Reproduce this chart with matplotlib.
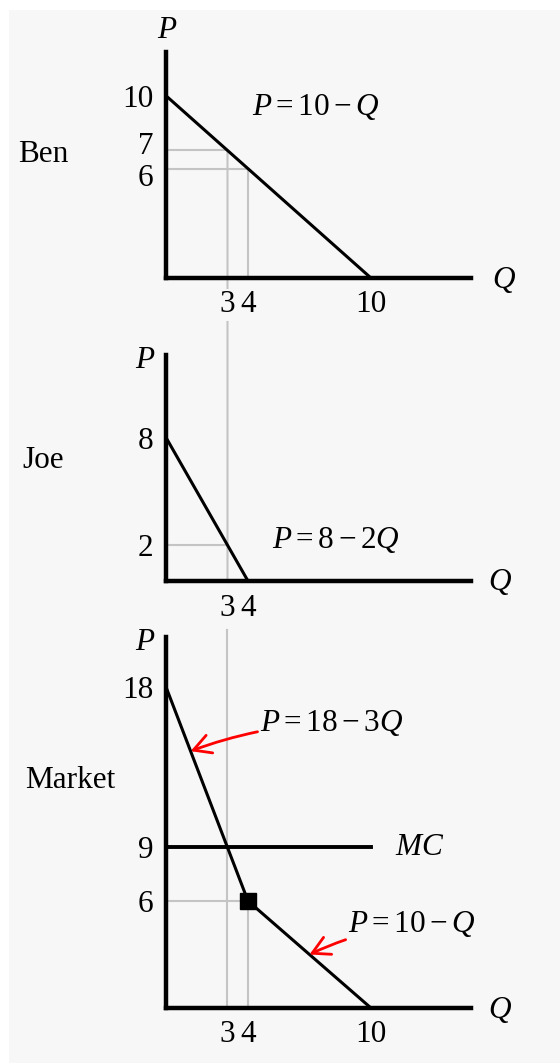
# Ben + Joe demand curves and their vertical sum (market demand) with MC

import matplotlib.pyplot as plt
from matplotlib.patches import Rectangle, ConnectionPatch
from matplotlib.transforms import ScaledTranslation

plt.rcParams['font.family'] = ['Liberation Serif', 'DejaVu Serif']
plt.rcParams['mathtext.fontset'] = 'custom'
plt.rcParams['mathtext.rm'] = 'Liberation Serif'
plt.rcParams['mathtext.it'] = 'Liberation Serif:italic'

# demand schedules (quantity, price)
ben_q = [0, 10]
ben_p = [10, 0]
joe_q = [0, 4]
joe_p = [8, 0]
mkt_q = [0, 4, 10]
mkt_p = [18, 6, 0]
mc = 9
mc_q = [0, 10]

# guide points
ben_guides = [(3, 7), (4, 6)]
joe_guide = (3, 2)
mkt_point = (4, 6)

ben_yticks = [10, 7, 6]
joe_yticks = [8, 2]
mkt_yticks = [18, 9, 6]
ben_xticks = [3, 4, 10]
joe_xticks = [3, 4]
mkt_xticks = [3, 4, 10]

bg = '#f7f7f7'
grey = '#c4c4c4'
W, H = 560, 1063
fs = 22.5

fig = plt.figure(figsize=(W / 100, H / 100), dpi=100)
fig.patch.set_facecolor('white')
fig.add_artist(Rectangle((9 / W, 0), 1, 1 - 10 / H, transform=fig.transFigure,
                         facecolor=bg, edgecolor='none', zorder=-3))


def panel(bottom_px, height_px, ymax):
    ax = fig.add_axes([166 / W, 1 - bottom_px / H, 305 / W, height_px / H])
    ax.set_facecolor('none')
    ax.set_xlim(0, 14.88)
    ax.set_ylim(0, ymax)
    for s in ['top', 'right']:
        ax.spines[s].set_visible(False)
    for s in ['left', 'bottom']:
        ax.spines[s].set_linewidth(3.2)
        ax.spines[s].set_capstyle('projecting')
    ax.tick_params(length=0, labelsize=fs, pad=9)
    return ax


def set_ticks(ax, xt, yt):
    ax.set_xticks(xt)
    ax.set_xticklabels([str(v) for v in xt])
    ax.set_yticks(yt)
    ax.set_yticklabels([str(v) for v in yt])
    for lab in ax.get_xticklabels() + ax.get_yticklabels():
        lab.set_bbox(dict(facecolor=bg, edgecolor='none', pad=1))


def nudge(lab, dy_px):
    lab.set_transform(lab.get_transform() +
                      ScaledTranslation(0, dy_px / 100, fig.dpi_scale_trans))


def axis_names(ax, p_xy, q_xy):
    ax.text(*p_xy, '$P$', fontsize=fs, ha='center', va='center', clip_on=False)
    ax.text(*q_xy, '$Q$', fontsize=fs, ha='center', va='center', clip_on=False)


# Ben
ax1 = panel(278, 226, 12.4)
set_ticks(ax1, ben_xticks, ben_yticks)
# 7 and 6 sit close together, spread the labels a little
ylabs = ax1.get_yticklabels()
nudge(ylabs[1], 7)
nudge(ylabs[2], -6)
for q, p in ben_guides:
    ax1.plot([0, q], [p, p], color=grey, lw=1.5, zorder=1)
    if q != 3:
        ax1.plot([q, q], [0, p], color=grey, lw=1.5, zorder=1)
ax1.plot(ben_q, ben_p, color='black', lw=2.2, zorder=3)
ax1.text(7.3, 9.4, '$P = 10 - Q$', fontsize=fs, ha='center', va='center')
axis_names(ax1, (0.05, 13.6), (16.5, -0.1))
fig.text(43 / W, 1 - 155 / H, 'Ben', fontsize=fs, ha='center', va='center')

# Joe
ax2 = panel(581, 226, 12.6)
set_ticks(ax2, joe_xticks, joe_yticks)
ax2.plot([0, joe_guide[0]], [joe_guide[1], joe_guide[1]], color=grey, lw=1.5, zorder=1)
ax2.plot(joe_q, joe_p, color='black', lw=2.2, zorder=3)
ax2.text(8.3, 2.3, '$P = 8 - 2Q$', fontsize=fs, ha='center', va='center')
axis_names(ax2, (-1.0, 12.3), (16.3, -0.05))
fig.text(43 / W, 1 - 460 / H, 'Joe', fontsize=fs, ha='center', va='center')

# Market
ax3 = panel(1008, 371, 20.8)
set_ticks(ax3, mkt_xticks, mkt_yticks)
ax3.plot([3, 3], [0, 21.2], color=grey, lw=1.5, zorder=1, clip_on=False)
ax3.plot([0, mkt_point[0]], [mkt_point[1], mkt_point[1]], color=grey, lw=1.5, zorder=1)
ax3.plot([mkt_point[0], mkt_point[0]], [0, mkt_point[1]], color=grey, lw=1.5, zorder=1)
ax3.plot(mc_q, [mc, mc], color='black', lw=2.8, zorder=3)
ax3.plot(mkt_q, mkt_p, color='black', lw=2.2, zorder=3)
ax3.plot(*mkt_point, marker='s', color='black', markersize=12, zorder=4)
ax3.text(12.4, mc, '$MC$', fontsize=fs, ha='center', va='center')
arrow = dict(arrowstyle='->,head_length=0.55,head_width=0.3', color='red', lw=2,
             connectionstyle='arc3,rad=0.08', shrinkA=0, shrinkB=0)
ax3.annotate('$P = 18 - 3Q$', xy=(1.2, 14.4), xytext=(4.6, 16.0), fontsize=fs,
             ha='left', va='center', arrowprops=arrow)
ax3.annotate('$P = 10 - Q$', xy=(7.0, 3.0), xytext=(8.9, 4.7), fontsize=fs,
             ha='left', va='center', arrowprops=arrow)
axis_names(ax3, (-1.0, 20.5), (16.3, -0.1))
fig.text(70 / W, 1 - 780 / H, 'Market', fontsize=fs, ha='center', va='center')

# Q = 3 guide running from Ben's curve down through Joe's panel
link = ConnectionPatch(xyA=(3, 7), coordsA='data', axesA=ax1,
                       xyB=(3, 0), coordsB='data', axesB=ax2,
                       color=grey, lw=1.5, zorder=-1)
fig.add_artist(link)

fig.savefig('out.png', dpi=100)
